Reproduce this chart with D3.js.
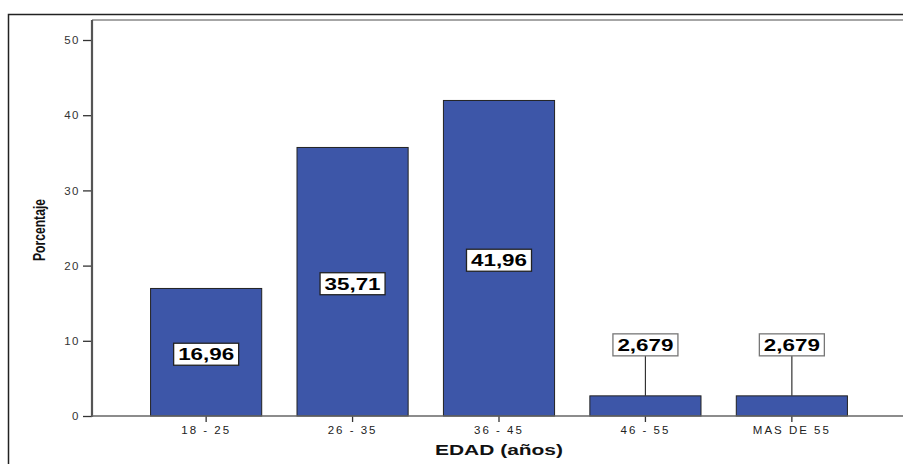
<!DOCTYPE html>
<html>
<head>
<meta charset="utf-8">
<script src="https://cdn.jsdelivr.net/npm/d3@7"></script>
<style>
  html, body { margin: 0; padding: 0; background: #fff; overflow: hidden; }
  svg { display: block; overflow: hidden; }
</style>
</head>
<body>
<svg id="chart" width="903" height="464"></svg>
<script>
// Age groups and percentage of respondents in each
const categories = ["18 - 25", "26 - 35", "36 - 45", "46 - 55", "MAS DE 55"];
const values = [16.96, 35.71, 41.96, 2.679, 2.679];
const valueLabels = ["16,96", "35,71", "41,96", "2,679", "2,679"];
const yTicks = [0, 10, 20, 30, 40, 50];

const svg = d3.select("#chart");
const W = 903, H = 464;
const FONT = "Arial, 'Liberation Sans', sans-serif";

// outer frame (left and top edges visible)
svg.append("path")
  .attr("d", `M8.5,${H} V14.5 H${W}`)
  .attr("fill", "none").attr("stroke", "#222").attr("stroke-width", 1.5);

const plotLeft = 92, plotRight = 906, plotTop = 20, plotBottom = 416;

const x = d3.scaleBand()
  .domain(categories)
  .range([plotLeft, plotRight])
  .paddingInner(0.241)
  .paddingOuter(0.40);

const y = d3.scaleLinear()
  .domain([0, 52.66])
  .range([plotBottom, plotTop]);

// plot frame (top edge)
svg.append("line")
  .attr("x1", plotLeft).attr("x2", W)
  .attr("y1", plotTop).attr("y2", plotTop)
  .attr("stroke", "#888").attr("stroke-width", 1.5);

// bars
svg.append("g").selectAll("rect")
  .data(values)
  .join("rect")
  .attr("x", (d, i) => x(categories[i]))
  .attr("y", d => y(d))
  .attr("width", x.bandwidth())
  .attr("height", d => y(0) - y(d))
  .attr("fill", "#3d56a8")
  .attr("stroke", "#222")
  .attr("stroke-width", 1);

// y axis
const yAxis = svg.append("g")
  .attr("transform", `translate(${plotLeft},0)`)
  .call(d3.axisLeft(y).tickValues(yTicks).tickSize(9).tickPadding(3).tickFormat(d3.format("d")));
yAxis.select(".domain").remove();
yAxis.selectAll(".tick line").attr("stroke", "#333").attr("stroke-width", 1.3);
yAxis.selectAll(".tick text")
  .attr("font-family", FONT)
  .attr("font-size", 11.5).attr("letter-spacing", "1.5px").attr("fill", "#333");
svg.append("line")
  .attr("x1", plotLeft).attr("x2", plotLeft)
  .attr("y1", plotTop).attr("y2", plotBottom + 1)
  .attr("stroke", "#555").attr("stroke-width", 2.2);

// x axis
const xAxis = svg.append("g")
  .attr("transform", `translate(0,${plotBottom})`)
  .call(d3.axisBottom(x).tickSize(6).tickPadding(4).tickSizeOuter(0));
xAxis.select(".domain").remove();
xAxis.selectAll(".tick line").attr("stroke", "#333").attr("stroke-width", 1.3);
xAxis.selectAll(".tick text")
  .attr("font-family", FONT)
  .attr("font-size", 11.5).attr("letter-spacing", "2px").attr("fill", "#222");
svg.append("line")
  .attr("x1", plotLeft).attr("x2", W)
  .attr("y1", plotBottom).attr("y2", plotBottom)
  .attr("stroke", "#666").attr("stroke-width", 1.5);

// value labels: inside tall bars, above short bars with a leader line
const labelG = svg.append("g");
values.forEach((v, i) => {
  const cx = x(categories[i]) + x.bandwidth() / 2;
  const inside = v > 10;
  const cy = inside ? y(v / 2) + 2 : y(v) - 51;
  const g = labelG.append("g");
  if (!inside) {
    g.append("line")
      .attr("x1", cx).attr("x2", cx)
      .attr("y1", cy + 10).attr("y2", y(v))
      .attr("stroke", "#333").attr("stroke-width", 1.2);
  }
  g.append("rect")
    .attr("x", cx - 32.5).attr("y", cy - 11)
    .attr("width", 65).attr("height", 22)
    .attr("fill", "#fff")
    .attr("stroke", inside ? "#222" : "#777")
    .attr("stroke-width", 1.3);
  g.append("text")
    .attr("x", cx - 28).attr("y", cy + 6)
    .attr("font-family", FONT)
    .attr("font-weight", "bold")
    .attr("font-size", 16)
    .attr("textLength", 56).attr("lengthAdjust", "spacingAndGlyphs")
    .attr("fill", "#000")
    .text(valueLabels[i]);
});

// axis titles
svg.append("text")
  .attr("x", (plotLeft + plotRight) / 2 - 64).attr("y", 455)
  .attr("font-family", FONT)
  .attr("font-weight", "bold").attr("font-size", 14)
  .attr("textLength", 128).attr("lengthAdjust", "spacingAndGlyphs")
  .attr("fill", "#111")
  .text("EDAD (años)");

svg.append("text")
  .attr("transform", "translate(45,261) rotate(-90)")
  .attr("font-family", "'Liberation Sans Narrow', 'Arial Narrow', Arial, sans-serif")
  .attr("font-weight", "bold").attr("font-size", 17)
  .attr("textLength", 62).attr("lengthAdjust", "spacingAndGlyphs")
  .attr("fill", "#111")
  .text("Porcentaje");
</script>
</body>
</html>
